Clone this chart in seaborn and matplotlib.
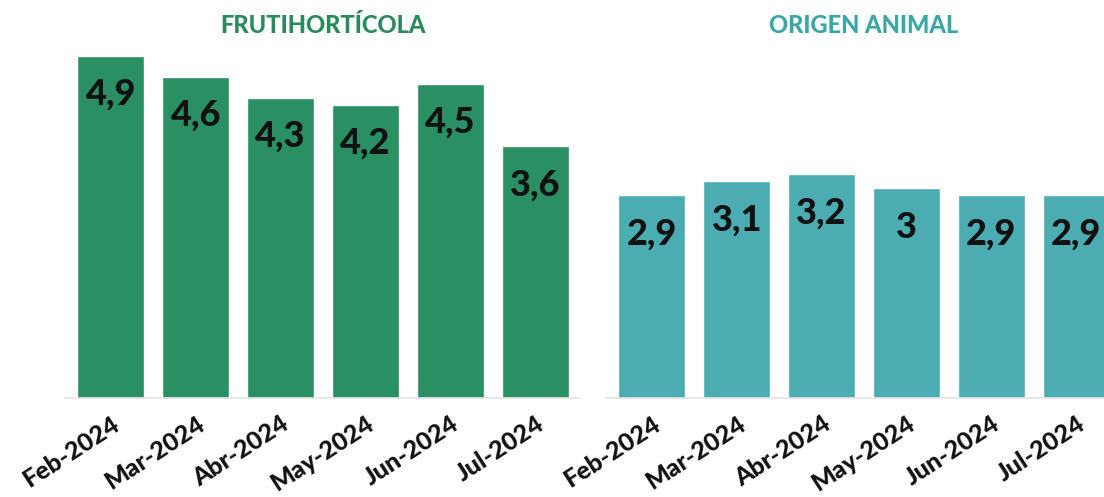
import matplotlib
matplotlib.use("Agg")
import matplotlib.pyplot as plt
import seaborn as sns

# Data
months = ["Feb-2024", "Mar-2024", "Abr-2024", "May-2024", "Jun-2024", "Jul-2024"]
fruti = [4.9, 4.6, 4.3, 4.2, 4.5, 3.6]
animal = [2.9, 3.1, 3.2, 3.0, 2.9, 2.9]

titles = ["FRUTIHORTÍCOLA", "ORIGEN ANIMAL"]
bar_colors = ["#2a8f63", "#4badb1"]
title_colors = ["#2a8a5a", "#3aa7a7"]

sns.set_style("white")
plt.rcParams["font.family"] = ["Lato", "DejaVu Sans"]


def fmt(v):
    if v == int(v):
        return str(int(v))
    return f"{v:.1f}".replace(".", ",")


fig = plt.figure(figsize=(11.04, 4.97), dpi=100)

ax1 = fig.add_axes([0.0589, 0.199, 0.4665, 0.720])
ax2 = fig.add_axes([0.549, 0.199, 0.4665, 0.720])

for ax, vals, title, bc, tc in zip([ax1, ax2], [fruti, animal], titles, bar_colors, title_colors):
    sns.barplot(x=months, y=vals, color=bc, saturation=1, width=0.79, ax=ax)
    ax.set_xlim(-0.54, 5.53)
    ax.set_ylim(0, 5.12)
    ax.set_yticks([])
    ax.set_xlabel("")
    ax.set_ylabel("")
    for s in ["top", "right", "left"]:
        ax.spines[s].set_visible(False)
    ax.spines["bottom"].set_color("#e3e3e3")
    ax.spines["bottom"].set_linewidth(1.2)
    ax.tick_params(axis="x", length=8, color="#e3e3e3", width=1, pad=2)
    plt.setp(ax.get_xticklabels(), rotation=33, ha="right", rotation_mode="anchor",
             fontsize=18, fontweight="black", color="#111111")
    for i, v in enumerate(vals):
        ax.annotate(fmt(v), (i, v), xytext=(0, -28), textcoords="offset points",
                    ha="center", va="center", fontsize=26, fontweight="black", color="#111111")
    ax.set_title(title, color=tc, fontsize=17, fontweight="black", pad=5)

fig.savefig("out.png", dpi=100)
